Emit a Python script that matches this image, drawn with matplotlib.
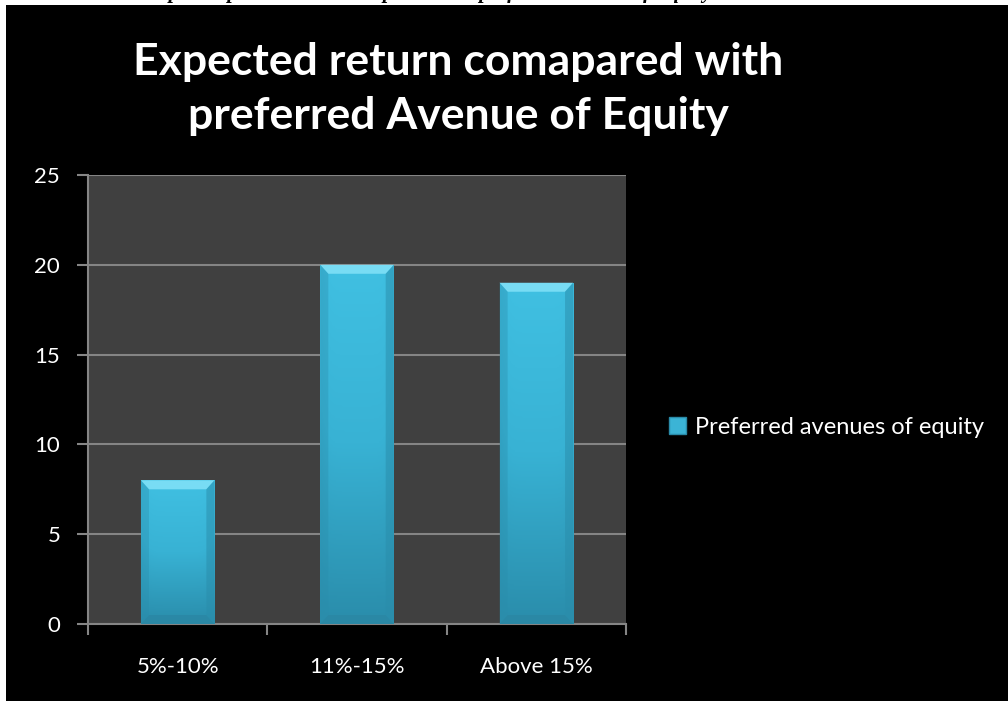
import matplotlib.pyplot as plt
import numpy as np
from matplotlib.patches import Rectangle, Polygon
from matplotlib.colors import LinearSegmentedColormap

categories = ['5%-10%', '11%-15%', 'Above 15%']
counts = [8, 20, 19]
y_ticks = [0, 5, 10, 15, 20, 25]
series_name = 'Preferred avenues of equity'
title = 'Expected return comapared with\npreferred Avenue of Equity'
caption = 'Graph: Expected return compared with preferred Avenue of Equity'

plt.rcParams['font.family'] = ['Lato', 'DejaVu Sans']

fig = plt.figure(figsize=(10.08, 7.01), dpi=100, facecolor='white')

# caption of the source page, mostly hidden behind the black chart area
fig.text(0.42, 1 + 1.5 / 701, caption, ha='center', va='baseline', fontsize=15,
         family=['Liberation Serif', 'DejaVu Serif'], style='italic', weight='bold',
         color='black', zorder=0)
fig.add_artist(Rectangle((6 / 1008, 0), 1, (701 - 5) / 701, transform=fig.transFigure,
                         facecolor='black', edgecolor='none', zorder=1))

ax = fig.add_axes([88 / 1008, 1 - 624 / 701, 538 / 1008, 449 / 701])
ax.set_zorder(2)
ax.set_facecolor('#404040')

x = np.arange(len(categories))
bars = ax.bar(x, counts, width=0.41, color='#3bb4d6', zorder=3)

# gradient fill and bevel for each bar
grad_cmap = LinearSegmentedColormap.from_list('g', ['#2a8dab', '#38b2d4', '#40c0e2'])
gy = np.linspace(0, 1, 100)[:, None]
gx = np.linspace(-1, 1, 60)[None, :]
shade = gy * (1 - 0.2 * gx ** 6)
for b in bars:
    bx, bw, bh = b.get_x(), b.get_width(), b.get_height()
    im = ax.imshow(shade, cmap=grad_cmap, vmin=0, vmax=1, origin='lower', aspect='auto',
                   extent=[bx, bx + bw, 0, bh], zorder=3)
    im.set_clip_path(b)
    dx, dy = 0.045, 0.5
    ax.add_patch(Polygon([(bx, bh), (bx + bw, bh), (bx + bw - dx, bh - dy), (bx + dx, bh - dy)],
                         closed=True, facecolor='#78dcf4', edgecolor='none', zorder=4))
    ax.add_patch(Polygon([(bx, 0), (bx + bw, 0), (bx + bw - dx, dy), (bx + dx, dy)],
                         closed=True, facecolor='#2a87a4', edgecolor='none', alpha=0.8, zorder=4))
    ax.add_patch(Polygon([(bx + bw, 0), (bx + bw, bh), (bx + bw - dx, bh - dy), (bx + bw - dx, dy)],
                         closed=True, facecolor='#2a8dab', edgecolor='none', alpha=0.5, zorder=4))
    ax.add_patch(Polygon([(bx, 0), (bx, bh), (bx + dx, bh - dy), (bx + dx, dy)],
                         closed=True, facecolor='#2a8dab', edgecolor='none', alpha=0.35, zorder=4))

ax.set_xlim(-0.5, len(categories) - 0.5)
ax.set_ylim(0, 25)
ax.set_yticks(y_ticks)
ax.set_xticks(x)
ax.set_xticklabels(categories)
ax.set_xticks(np.arange(len(categories) + 1) - 0.5, minor=True)

ax.grid(axis='y', color='#858585', linewidth=1.5, zorder=1)
ax.set_axisbelow(True)
for side in ['top', 'right']:
    ax.spines[side].set_visible(False)
for side in ['left', 'bottom']:
    ax.spines[side].set_color('#858585')
    ax.spines[side].set_linewidth(1.5)

ax.tick_params(axis='y', colors='#858585', labelcolor='white', labelsize=16,
               length=8, width=1.5, pad=12)
ax.tick_params(axis='x', which='major', length=0, labelcolor='white', labelsize=16, pad=24)
ax.tick_params(axis='x', which='minor', colors='#858585', length=8, width=1.5)

fig.text(458 / 1008, 1 - 89 / 701, title, ha='center', va='center', color='white',
         fontsize=32, weight='bold', linespacing=1.4, zorder=3)

# legend
leg_handle = Rectangle((0, 0), 1, 1, facecolor='#3bb4d6', edgecolor='#2a8aa8')
leg = fig.legend([leg_handle], [series_name], loc='center left',
                 bbox_to_anchor=(648 / 1008, 1 - 427 / 701), frameon=False,
                 fontsize=17, labelcolor='white', handlelength=0.7, handleheight=0.7,
                 handletextpad=0.4)
leg.set_zorder(3)

fig.savefig('out.png', dpi=100, facecolor='white')
